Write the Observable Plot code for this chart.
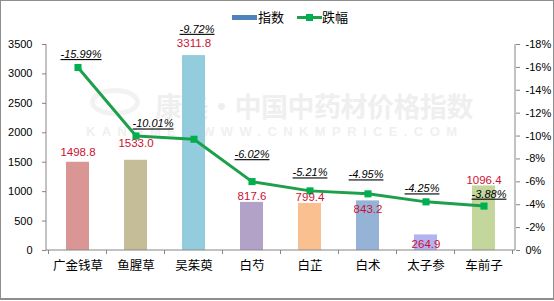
<!DOCTYPE html>
<html>
<head>
<meta charset="utf-8">
<script src="https://cdn.jsdelivr.net/npm/d3@7"></script>
<script src="https://cdn.jsdelivr.net/npm/@observablehq/plot@0.6"></script>
<style>
  html, body { margin: 0; padding: 0; background: #fff; }
  #wrap { position: relative; width: 554px; height: 301px; overflow: hidden; background: #fff; }
  #border { position: absolute; left: 0; top: 0; width: 554px; height: 300px; box-sizing: border-box; border: 1px solid #8e8e8e; border-bottom-width: 2px; pointer-events: none; z-index: 5; }
  #wm { position: absolute; left: 0; top: 0; width: 554px; height: 301px; z-index: 0; pointer-events: none; }
  #wm .l1 { position: absolute; left: 155px; top: 86px; font: bold 27px "Noto Sans CJK SC", sans-serif; color: #efefef; letter-spacing: -0.5px; white-space: nowrap; }
  #wm .l2 { position: absolute; left: 86px; top: 124px; font: bold 13px "Liberation Sans", Arial, sans-serif; color: #f0f0f0; letter-spacing: 6.4px; white-space: nowrap; }
  #wm .logo { position: absolute; left: 90px; top: 88px; width: 50px; height: 28px; border-radius: 50%; border: 5px solid #f2f2f2; box-sizing: border-box; }
  #chart { position: absolute; left: 0; top: 0; z-index: 1; }
  #legend { position: absolute; top: 8px; left: 232px; height: 18px; z-index: 2; font: 13px "Noto Sans CJK SC", sans-serif; color: #000; }
  #legend .sw1 { position: absolute; left: 0; top: 7px; width: 25px; height: 5px; background: #4F81BD; }
  #legend .t1 { position: absolute; left: 26px; top: 0px; white-space: nowrap; line-height: 18px; }
  #legend .sw2 { position: absolute; left: 65px; top: 8px; width: 25px; height: 3px; background: #1E9F4C; }
  #legend .sq { position: absolute; left: 74px; top: 6px; width: 7px; height: 7px; background: #00B050; }
  #legend .t2 { position: absolute; left: 90px; top: 0px; white-space: nowrap; line-height: 18px; }
</style>
</head>
<body>
<div id="wrap">
  <div id="wm"><div class="logo"></div><div class="l1">康美·中国中药材价格指数</div><div class="l2">KANGMEI WWW.CNKMPRICE.COM</div></div>
  <div id="chart"></div>
  <div id="legend"><div class="sw1"></div><div class="t1">指数</div><div class="sw2"></div><div class="sq"></div><div class="t2">跌幅</div></div>
  <div id="border"></div>
</div>
<script>
// ---- data ----
const categories = ["广金钱草", "鱼腥草", "吴茱萸", "白芍", "白芷", "白术", "太子参", "车前子"];
const indexValues = [1498.8, 1533.0, 3311.8, 817.6, 799.4, 843.2, 264.9, 1096.4];
const declines = [-15.99, -10.01, -9.72, -6.02, -5.21, -4.95, -4.25, -3.88];
const leftTicks = [0, 500, 1000, 1500, 2000, 2500, 3000, 3500];
const rightTicks = [0, -2, -4, -6, -8, -10, -12, -14, -16, -18];

// ---- styles (kept separate from data) ----
const barColors = ["#D99694", "#C4BD97", "#93CDDD", "#B3A2C7", "#FAC090", "#95B3D7", "#B4B2F0", "#C3D69B"];
const barLabelDy = [-10, -17, -12, -6, -6, 8, 9, -6];
const pctLabelDx = [3, 17, 3, 0, 0, -2, -4, 5];
const pctLabelDy = [-13, -12, -110, -27, -18, -19, -13, -12];

const yMax = 3500, pMax = 18;
const k = yMax / pMax; // maps percentage magnitude onto the left scale

const rows = categories.map((c, i) => ({
  cat: c, value: indexValues[i], decline: declines[i], color: barColors[i], i
}));

const axisColor = "#868686";

// function mark: axis lines + category boundary ticks
const axisLines = (index, scales, values, dims) => {
  const g = d3.create("svg:g");
  const x = scales.x, y = scales.y;
  const x0 = dims.marginLeft, x1 = dims.width - dims.marginRight;
  const y0 = y(0), yTop = y(yMax);
  g.append("line").attr("x1", x0).attr("x2", x0).attr("y1", yTop).attr("y2", y0).attr("stroke", axisColor);
  g.append("line").attr("x1", x1).attr("x2", x1).attr("y1", yTop).attr("y2", y0).attr("stroke", axisColor);
  g.append("line").attr("x1", x0).attr("x2", x1).attr("y1", y0).attr("y2", y0).attr("stroke", axisColor);
  const step = x.step ? x.step() : (x1 - x0) / categories.length;
  const bw = x.bandwidth ? x.bandwidth() : 0;
  categories.forEach((c, i) => {
    const b = x(c) + bw / 2 - step / 2;
    g.append("line").attr("x1", b).attr("x2", b).attr("y1", y0).attr("y2", y0 + 4).attr("stroke", axisColor);
  });
  const bEnd = x(categories[categories.length - 1]) + bw / 2 + step / 2;
  g.append("line").attr("x1", bEnd).attr("x2", bEnd).attr("y1", y0).attr("y2", y0 + 4).attr("stroke", axisColor);
  return g.node();
};

const marks = [
  Plot.barY(rows, { x: "cat", y: "value", fill: "color" }),
  Plot.axisY({ ticks: leftTicks, tickFormat: d => String(d), tickSize: 4, tickPadding: 10, stroke: axisColor, fill: "#000", fontSize: 11, label: null, anchor: "left" }),
  Plot.axisY({
    ticks: rightTicks.map(p => -p * k), anchor: "right", tickSize: 4, tickPadding: 6, stroke: axisColor, fill: "#000", fontSize: 11, label: null,
    tickFormat: v => { const p = Math.round(-v / k); return p === 0 ? "0%" : `${p}%`; }
  }),
  Plot.axisX({ tickSize: 0, tickPadding: 11, fontSize: 12.5, fontFamily: "Noto Sans CJK SC, sans-serif", fill: "#000", label: null }),
  axisLines,
  Plot.line(rows, { x: "cat", y: d => -d.decline * k, stroke: "#1E9F4C", strokeWidth: 3 }),
  Plot.dot(rows, { x: "cat", y: d => -d.decline * k, symbol: "square", r: 4, fill: "#00B050", stroke: "none" }),
  ...rows.map((r, i) => Plot.text([r], {
    x: "cat", y: "value", text: d => d.value.toFixed(1), dy: barLabelDy[i],
    fill: "#CC1133", fontSize: 11.5, fontFamily: "Liberation Sans, Arial, sans-serif"
  })),
  ...rows.map((r, i) => Plot.text([r], {
    x: "cat", y: d => -d.decline * k, text: d => `${d.decline.toFixed(2)}%`, dx: pctLabelDx[i], dy: pctLabelDy[i],
    fill: "#000", fontSize: 11, fontStyle: "italic", fontFamily: "Liberation Sans, Arial, sans-serif", ariaLabel: "pct-label"
  }))
];

const chart = Plot.plot({
  width: 554,
  height: 301,
  marginTop: 44,
  marginBottom: 51,
  marginLeft: 46,
  marginRight: 39,
  style: { background: "transparent", fontFamily: "Liberation Sans, Arial, sans-serif", fontSize: "11px", color: "#000" },
  x: { domain: categories, paddingInner: 0.6, paddingOuter: 0.3, axis: null },
  y: { domain: [0, yMax], axis: null },
  color: { type: "identity" },
  marks
});
document.getElementById("chart").appendChild(chart);

// underline the percentage labels (Excel-style underlined data labels)
const pctTexts = new Set(declines.map(d => `${d.toFixed(2)}%`));
chart.querySelectorAll("text").forEach(t => {
  if (pctTexts.has(t.textContent.trim())) {
    t.setAttribute("text-decoration", "underline");
    t.style.textDecoration = "underline";
  }
});
</script>
</body>
</html>
